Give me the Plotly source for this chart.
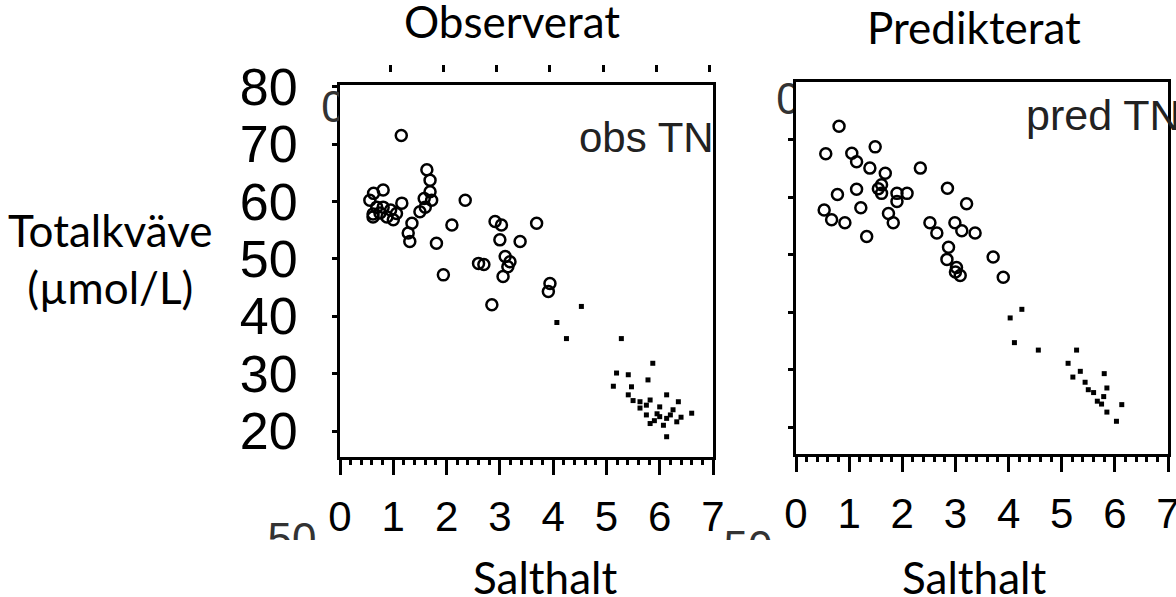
import plotly.graph_objects as go

W, H = 1176, 597

# ---------------- data ----------------
obs_open_salt = [1.15, 1.63, 1.69, 1.69, 1.72, 1.58, 1.60, 1.50, 1.35, 1.28, 1.31,
                 0.63, 0.81, 0.56, 0.69, 0.81, 0.62, 0.88, 1.06, 1.16, 1.00, 0.62,
                 0.75, 0.95, 2.35, 2.10, 1.81, 1.94, 2.91, 3.03, 3.69, 3.00, 3.38,
                 2.60, 2.70, 3.19, 3.10, 3.15, 3.06, 3.94, 3.91, 2.85]
obs_open_tn = [71.5, 65.5, 63.7, 61.7, 60.2, 60.5, 59.0, 58.2, 56.2, 54.5, 53.0,
               61.4, 62.0, 60.2, 59.0, 59.0, 57.3, 57.3, 57.9, 59.7, 56.8, 57.8,
               58.0, 58.5, 60.2, 55.9, 52.7, 47.2, 56.5, 55.9, 56.2, 53.3, 53.0,
               49.2, 49.0, 49.5, 50.4, 48.6, 46.9, 45.7, 44.3, 42.0]

obs_small_salt = [4.53, 4.07, 4.25, 5.28, 5.87, 5.19, 5.41, 5.78, 5.13, 5.47, 5.41,
                  5.50, 5.63, 5.82, 6.13, 6.35, 5.63, 5.75, 6.25, 6.60, 6.00, 6.13,
                  5.82, 6.32, 6.07, 6.13, 5.75, 6.00, 5.95, 6.20, 5.90, 6.40]
obs_small_tn = [41.7, 38.9, 36.1, 36.1, 31.8, 30.1, 29.8, 28.9, 27.8, 27.7, 26.3,
                25.3, 25.1, 25.4, 26.3, 25.1, 24.0, 24.5, 23.7, 23.1, 22.5, 22.2,
                21.3, 21.6, 21.0, 19.0, 22.8, 24.2, 23.0, 22.8, 21.8, 22.4]

pred_open_salt = [0.81, 0.56, 1.05, 1.49, 1.14, 1.39, 1.68, 1.61, 1.61, 1.90, 2.09,
                  1.90, 2.34, 2.85, 3.21, 0.78, 1.14, 1.22, 0.53, 0.67, 0.92, 1.33,
                  1.74, 1.83, 2.52, 2.65, 2.99, 3.12, 3.37, 2.87, 2.84, 3.02, 3.09,
                  3.71, 3.90, 1.55, 3.00]
pred_open_tn = [72.4, 67.6, 67.7, 68.8, 66.2, 65.1, 64.2, 62.2, 60.7, 60.7, 60.7,
                59.3, 65.1, 61.6, 58.9, 60.5, 61.4, 58.2, 57.8, 56.1, 55.6, 53.2,
                57.2, 55.6, 55.6, 53.8, 55.6, 54.2, 53.8, 51.3, 49.2, 47.8, 46.4,
                49.6, 46.1, 61.5, 47.0]

pred_small_salt = [4.25, 4.03, 4.11, 4.56, 5.28, 5.12, 5.35, 5.80, 5.21, 5.44, 5.50,
                   5.85, 5.79, 5.67, 6.13, 5.85, 6.03, 5.60, 5.75]
pred_small_tn = [40.5, 39.0, 34.7, 33.4, 33.4, 31.1, 29.7, 29.3, 28.7, 27.8, 26.5,
                 26.8, 25.3, 24.5, 23.9, 22.6, 21.0, 26.0, 24.0]

x_ticks = [0, 1, 2, 3, 4, 5, 6, 7]
y_ticks = [20, 30, 40, 50, 60, 70, 80]
y_tick_labels = ["20", "30", "40", "50", "60", "70", "80"]

title_obs = "Observerat"
title_pred = "Predikterat"
x_title = "Salthalt"
y_title = "Totalkväve<br>(µmol/L)"
label_obs = "obs TN"
label_pred = "pred TN"
# clipped stray label fragments visible in the source image
fragment_texts = ["0", "0", "50", "50"]

# ---------------- figure ----------------
fig = go.Figure()

open_marker = dict(symbol="circle-open", size=11, color="black", line=dict(width=2.5, color="black"))
small_marker = dict(symbol="square", size=5, color="black", line=dict(width=0))

fig.add_trace(go.Scatter(x=obs_open_salt, y=obs_open_tn, mode="markers", marker=open_marker,
                         xaxis="x", yaxis="y", showlegend=False, hoverinfo="skip"))
fig.add_trace(go.Scatter(x=obs_small_salt, y=obs_small_tn, mode="markers", marker=small_marker,
                         xaxis="x", yaxis="y", showlegend=False, hoverinfo="skip"))
fig.add_trace(go.Scatter(x=pred_open_salt, y=pred_open_tn, mode="markers", marker=open_marker,
                         xaxis="x2", yaxis="y2", showlegend=False, hoverinfo="skip"))
fig.add_trace(go.Scatter(x=pred_small_salt, y=pred_small_tn, mode="markers", marker=small_marker,
                         xaxis="x2", yaxis="y2", showlegend=False, hoverinfo="skip"))
# carrier for the stray top tick row
fig.add_trace(go.Scatter(x=[None], y=[None], mode="markers", xaxis="x3", yaxis="y",
                         showlegend=False, hoverinfo="skip"))


def px_x(p):
    return p / W


def px_y(p):
    return 1 - p / H


# fragment clip boxes in pixels: (left, right, top, bottom), text centre (cx, cy), font size
frag_boxes = [
    ((316, 339), (88, 135), (333.5, 111), 44),
    ((771, 793), (80, 128), (788.5, 103), 44),
    ((262, 322), (520, 540), (292, 542.5), 44),
    ((724, 772), (530, 540), (748, 550.5), 44),
]

tickfont_y = dict(family="Liberation Sans, Arial", size=52, color="black")
tickfont_x = dict(family="Liberation Sans, Arial", size=42, color="black")

common_x = dict(range=[0, 7], tickvals=x_ticks, ticks="outside", ticklen=15, tickwidth=3,
                tickcolor="black", showline=True, linecolor="black", linewidth=3, mirror=True,
                showgrid=False, zeroline=False, tickfont=tickfont_x, ticklabelstandoff=6,
                automargin=False, ticklabeloverflow="allow",
                minor=dict(dtick=0.2, ticks="outside", ticklen=5, tickwidth=3, tickcolor="black",
                           showgrid=False))

layout_axes = dict(
    xaxis=dict(domain=[px_x(340), px_x(713)], anchor="y", **common_x),
    yaxis=dict(domain=[px_y(457), px_y(85)], range=[15.47, 80.28], anchor="x",
               tickvals=y_ticks, ticktext=y_tick_labels, ticks="outside", ticklen=5, tickwidth=3,
               tickcolor="black", showline=True, linecolor="black", linewidth=3, mirror=True,
               showgrid=False, zeroline=False, tickfont=tickfont_y, ticklabelstandoff=24,
               automargin=False, ticklabeloverflow="allow"),
    xaxis2=dict(domain=[px_x(796), px_x(1168)], anchor="y2", **common_x),
    yaxis2=dict(domain=[px_y(454), px_y(82)], range=[15.3, 80.1], anchor="x2",
                tickvals=y_ticks[:-1], ticks="outside", ticklen=5, tickwidth=3,
                tickcolor="black", showline=True, linecolor="black", linewidth=3, mirror=True,
                showgrid=False, zeroline=False, showticklabels=False, automargin=False),
    xaxis3=dict(overlaying="x", anchor="free", position=px_y(72), side="top",
                range=[0.06, 7.06], tickvals=x_ticks, ticks="outside", ticklen=7, tickwidth=3,
                tickcolor="black", showline=False, showgrid=False, zeroline=False,
                showticklabels=False, automargin=False),
)

for i, (txt, ((l, r), (t, b), (cx, cy), fs)) in enumerate(zip(fragment_texts, frag_boxes)):
    n = i + 4
    layout_axes[f"xaxis{n}"] = dict(domain=[px_x(l), px_x(r)], range=[l, r], anchor=f"y{n}",
                                    visible=False, fixedrange=True, automargin=False)
    layout_axes[f"yaxis{n}"] = dict(domain=[px_y(b), px_y(t)], range=[b, t], anchor=f"x{n}",
                                    visible=False, fixedrange=True, automargin=False)
    fig.add_trace(go.Scatter(x=[cx], y=[cy], mode="text", text=[txt], textposition="middle center",
                             textfont=dict(family="Liberation Sans, Arial", size=fs, color="#333"),
                             cliponaxis=True, xaxis=f"x{n}", yaxis=f"y{n}",
                             showlegend=False, hoverinfo="skip"))

fig.update_layout(
    width=W, height=H,
    autosize=False,
    margin=dict(l=0, r=0, t=0, b=0, pad=0, autoexpand=False),
    paper_bgcolor="white", plot_bgcolor="rgba(0,0,0,0)",
    **layout_axes,
)

title_font = dict(family="Lato", size=44, color="black")
annotations = [
    dict(text=title_obs, x=px_x(512), y=px_y(21), xanchor="center", yanchor="middle", font=title_font),
    dict(text=title_pred, x=px_x(974), y=px_y(27), xanchor="center", yanchor="middle", font=title_font),
    dict(text=x_title, x=px_x(545), y=px_y(577), xanchor="center", yanchor="middle", font=title_font),
    dict(text=x_title, x=px_x(974), y=px_y(577), xanchor="center", yanchor="middle", font=title_font),
    dict(text=y_title, x=px_x(111), y=px_y(258), xanchor="center", yanchor="middle", font=title_font),
    dict(text=label_obs, x=px_x(577), y=px_y(137), xanchor="left", yanchor="middle",
         font=dict(family="Liberation Sans, Arial", size=42, color="#222")),
    dict(text=label_pred, x=px_x(1024), y=px_y(115), xanchor="left", yanchor="middle",
         font=dict(family="Liberation Sans, Arial", size=43, color="#222")),
]
for a in annotations:
    a.update(xref="paper", yref="paper", showarrow=False)
fig.update_layout(annotations=annotations)

fig.write_html("out.html", config={"responsive": False, "displayModeBar": False},
               post_script="document.body.style.margin='0';document.body.style.padding='0';")
